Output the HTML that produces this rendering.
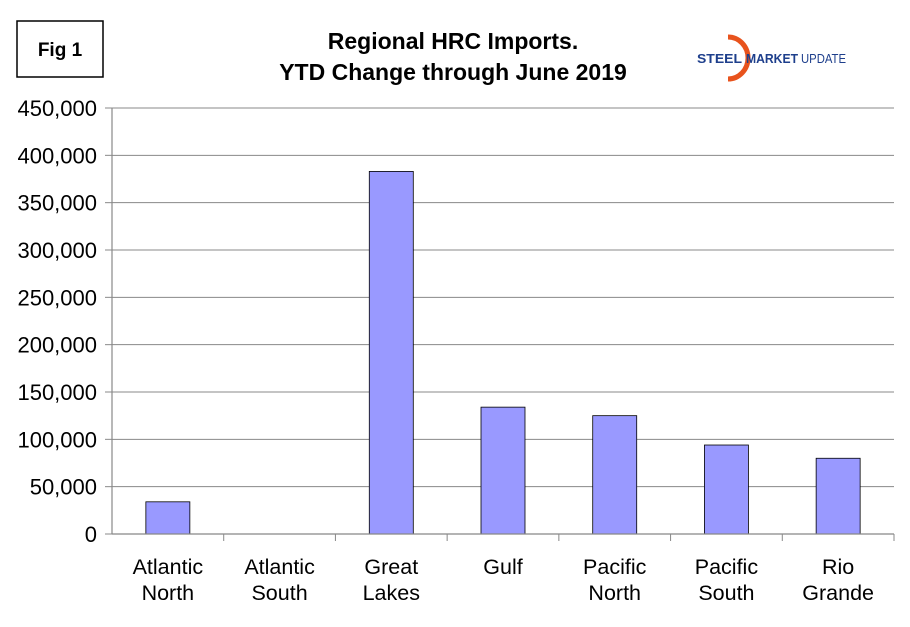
<!DOCTYPE html>
<html><head><meta charset="utf-8">
<style>
body{margin:0;background:#fff;font-family:"Liberation Sans",Arial,sans-serif;}
svg text{font-family:"Liberation Sans",Arial,sans-serif;}
</style></head>
<body>
<svg id="chart" width="910" height="622" viewBox="0 0 910 622">
<rect x="17" y="21" width="86" height="56" fill="#fff" stroke="#000" stroke-width="1.5"/>
<text x="60" y="56" text-anchor="middle" font-size="19" font-weight="bold">Fig 1</text>
<text x="453" y="49" text-anchor="middle" font-size="23" font-weight="bold">Regional HRC Imports.</text>
<text x="453" y="80" text-anchor="middle" font-size="23" font-weight="bold">YTD Change through June 2019</text>
<g>
<path d="M728,37 A20,21 0 1 1 728,79" fill="none" stroke="#e8531d" stroke-width="5"/>
<text x="697" y="63" font-size="13" font-weight="bold" fill="#1e3f8c" textLength="45" lengthAdjust="spacingAndGlyphs">STEEL</text>
<text x="746" y="63" font-size="13" font-weight="bold" fill="#1e3f8c" textLength="52" lengthAdjust="spacingAndGlyphs">MARKET</text>
<text x="801" y="63" font-size="13" fill="#1e3f8c" textLength="45" lengthAdjust="spacingAndGlyphs">UPDATE</text>
</g>
<g id="grid"></g>
<g id="bars"></g>
<g id="axes"></g>
</svg>
<script>
const categories=[["Atlantic","North"],["Atlantic","South"],["Great","Lakes"],["Gulf",""],["Pacific","North"],["Pacific","South"],["Rio","Grande"]];
const values=[34000,0,383000,134000,125000,94000,80000];
const ticks=[0,50000,100000,150000,200000,250000,300000,350000,400000,450000];
const tickLabels=["0","50,000","100,000","150,000","200,000","250,000","300,000","350,000","400,000","450,000"];
const NS="http://www.w3.org/2000/svg";
const x0=112,x1=894,y0=534,y1=108,maxV=450000;
const band=(x1-x0)/categories.length;
const yS=v=>y0-(v/maxV)*(y0-y1);
const xS=i=>x0+band*i;
function mk(t,a,p){const e=document.createElementNS(NS,t);for(const k in a)e.setAttribute(k,a[k]);p.appendChild(e);return e;}
const grid=document.getElementById('grid'),bars=document.getElementById('bars'),axes=document.getElementById('axes');
ticks.forEach((v,i)=>{
  const y=yS(v);
  if(v>0){const g=mk('line',{x1:x0,x2:x1,y1:y,y2:y,stroke:'#888','stroke-width':1},grid);
  
  }
  const tk=mk('line',{x1:x0-7,x2:x0,y1:y,y2:y,stroke:'#888','stroke-width':1},axes);
  
  
  const t=mk('text',{x:97,y:y+8,'text-anchor':'end','font-size':22},axes);
  t.textContent=tickLabels[i];
  
  
});
values.forEach((v,i)=>{
  const w=44,x=xS(i)+band/2-w/2;
  const r=mk('rect',{x:x,y:yS(v),width:w,height:y0-yS(v),fill:'#9999ff',stroke:'#000','stroke-width':0.8},bars);
  
  
  const cx=xS(i)+band/2;
  categories[i].forEach((l,j)=>{if(!l)return;
    const t=mk('text',{x:cx,y:574+j*26,'text-anchor':'middle','font-size':21.5},axes);
    t.textContent=l;
    
    });
  const tk=mk('line',{x1:xS(i+1),x2:xS(i+1),y1:y0,y2:y0+7,stroke:'#888'},axes);
  
  
});
const ya=mk('line',{x1:x0,x2:x0,y1:y1,y2:y0,stroke:'#888','stroke-width':1.2},axes);


const xa=mk('line',{x1:x0,x2:x1,y1:y0,y2:y0,stroke:'#888','stroke-width':1.2},axes);


</script>
</body></html>
